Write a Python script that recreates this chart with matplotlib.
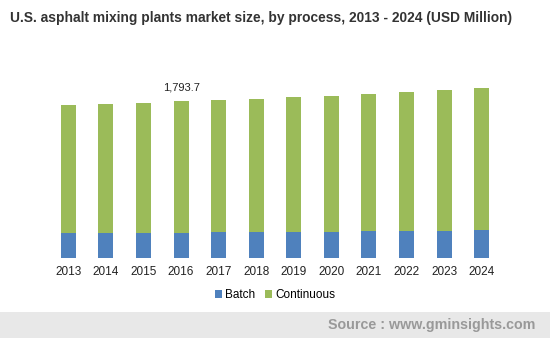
import matplotlib.pyplot as plt
import numpy as np
from matplotlib.patches import Rectangle

plt.rcParams['font.family'] = ['Liberation Sans', 'DejaVu Sans']

years = ["2013", "2014", "2015", "2016", "2017", "2018",
         "2019", "2020", "2021", "2022", "2023", "2024"]
totals = [1748, 1760, 1771, 1793.7, 1805, 1817, 1840, 1851, 1874, 1897, 1920, 1943]
batch = [280, 282, 284, 286, 289, 293, 296, 298, 301, 305, 308, 311]
continuous = [t - b for t, b in zip(totals, batch)]

BLUE = "#4F81BD"
GREEN = "#9BBB59"

fig = plt.figure(figsize=(5.5, 3.38), dpi=100)
ax = fig.add_axes([0.09, 0.2376, 0.82, 0.585])

x = np.arange(len(years))
ax.bar(x, batch, width=0.4, color=BLUE, label="Batch")
ax.bar(x, continuous, width=0.4, bottom=batch, color=GREEN, label="Continuous")

ax.set_xlim(-0.5, len(years) - 0.5)
ax.set_ylim(0, 2260)
ax.set_xticks(x)
ax.set_xticklabels(years, fontsize=8.5, color="#222222")
ax.tick_params(axis="x", length=0, pad=6)
ax.set_yticks([])
for s in ax.spines.values():
    s.set_visible(False)

i16 = years.index("2016")
ax.annotate(f"{totals[i16]:,.1f}", (x[i16], totals[i16]), xytext=(0, 6),
            textcoords="offset points", ha="center", va="bottom",
            fontsize=8, color="#222222")

fig.text(0.475, 0.948, "U.S. asphalt mixing plants market size, by process, 2013 - 2024 (USD Million)",
         ha="center", va="center", fontsize=9.9, fontweight="bold", color="#333333")

leg = fig.legend(loc="center", bbox_to_anchor=(0.5, 0.127), ncol=2, frameon=False,
                 fontsize=8.5, handlelength=0.6, handleheight=0.6, handletextpad=0.3,
                 columnspacing=0.8)

fig.patches.append(Rectangle((0, 0), 1, 26 / 338, transform=fig.transFigure,
                             facecolor="#E8E8E8", edgecolor="none", zorder=0))
fig.text(0.973, 13 / 338, "Source : www.gminsights.com", ha="right", va="center",
         fontsize=10.3, fontweight="bold", color="#999999")

fig.savefig("out.png", dpi=100)
